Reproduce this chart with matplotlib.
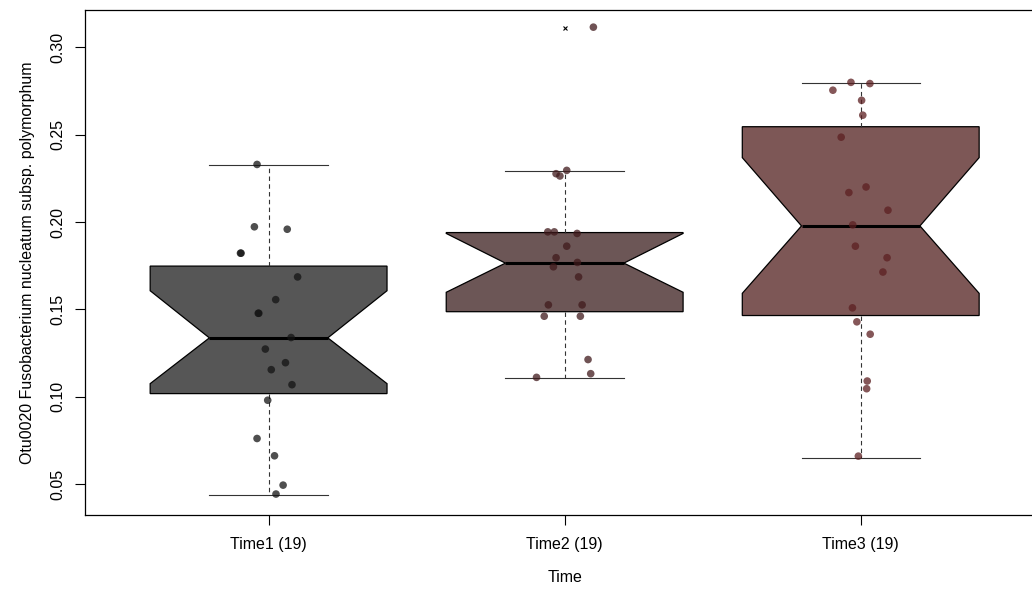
import matplotlib
matplotlib.use("Agg")
import matplotlib.pyplot as plt

plt.rcParams['font.family'] = ['Liberation Sans', 'DejaVu Sans']

groups = ['Time1', 'Time2', 'Time3']
counts = [19, 19, 19]

# box statistics
medians = [0.1337, 0.1765, 0.1978]
q1s = [0.1018, 0.1487, 0.1465]
q3s = [0.1748, 0.1940, 0.2546]
whis_lo = [0.0437, 0.1107, 0.0652]
whis_hi = [0.2325, 0.2292, 0.2797]
notch_lo = [0.1075, 0.1598, 0.1592]
notch_hi = [0.1607, 0.1935, 0.2369]
outliers = [[], [0.311], []]

# jittered points: value and horizontal offset
time1_vals = [0.2330, 0.1973, 0.1959, 0.1822, 0.1822, 0.1686, 0.1556, 0.1478, 0.1478,
              0.1339, 0.1273, 0.1195, 0.1155, 0.1069, 0.0980, 0.0761, 0.0662, 0.0494, 0.0443]
time1_jit = [-0.039, -0.048, 0.063, -0.095, -0.093, 0.098, 0.024, -0.035, -0.033,
             0.076, -0.011, 0.057, 0.009, 0.079, -0.003, -0.039, 0.020, 0.049, 0.025]
time2_vals = [0.3116, 0.2296, 0.2277, 0.2264, 0.1944, 0.1944, 0.1935, 0.1862, 0.1796,
              0.1769, 0.1744, 0.1686, 0.1526, 0.1526, 0.1461, 0.1461, 0.1213, 0.1132, 0.1111]
time2_jit = [0.097, 0.007, -0.029, -0.016, -0.057, -0.035, 0.042, 0.007, -0.029,
             0.043, -0.038, 0.047, -0.055, 0.059, -0.069, 0.053, 0.079, 0.088, -0.095]
time3_vals = [0.2800, 0.2793, 0.2755, 0.2697, 0.2612, 0.2486, 0.2201, 0.2169, 0.2068,
              0.1984, 0.1862, 0.1796, 0.1714, 0.1509, 0.1429, 0.1358, 0.1090, 0.1046, 0.0660]
time3_jit = [-0.033, 0.031, -0.094, 0.003, 0.007, -0.066, 0.018, -0.040, 0.092,
             -0.027, -0.018, 0.089, 0.075, -0.028, -0.013, 0.032, 0.022, 0.020, -0.008]

box_colors = ['#565656', '#6c5656', '#7d5756']
point_colors = [(0.08, 0.08, 0.08, 0.75), (0.25, 0.10, 0.11, 0.75), (0.36, 0.12, 0.13, 0.75)]

fig = plt.figure(figsize=(10.32, 5.91), dpi=100)
ax = fig.add_axes([0.0824, 0.1286, 0.9295, 0.8553])

positions = [1, 2, 3]
stats = []
for i in range(3):
    stats.append(dict(med=medians[i], q1=q1s[i], q3=q3s[i], whislo=whis_lo[i],
                      whishi=whis_hi[i], cilo=notch_lo[i], cihi=notch_hi[i],
                      fliers=outliers[i]))

bp = ax.bxp(stats, positions=positions, widths=0.8, shownotches=True, patch_artist=True,
            boxprops=dict(edgecolor='black', linewidth=0.9),
            whiskerprops=dict(color='#333333', linewidth=0.8, linestyle=(0, (4, 3))),
            capprops=dict(color='#333333', linewidth=0.8),
            medianprops=dict(color='black', linewidth=2.2),
            flierprops=dict(marker='x', markersize=3, markeredgecolor='black',
                            markeredgewidth=0.8))
for patch, c in zip(bp['boxes'], box_colors):
    patch.set_facecolor(c)

vals = [time1_vals, time2_vals, time3_vals]
jits = [time1_jit, time2_jit, time3_jit]
for i in range(3):
    xs = [positions[i] + j for j in jits[i]]
    ax.scatter(xs, vals[i], s=30, color=point_colors[i], edgecolors='none', zorder=5)

ax.set_xlim(0.38, 3.62)
ax.set_ylim(0.0323, 0.3217)
ax.set_xticks(positions)
ax.set_xticklabels(['%s (%d)' % (g, n) for g, n in zip(groups, counts)])
ax.set_yticks([0.05, 0.10, 0.15, 0.20, 0.25, 0.30])
ax.set_yticklabels(['0.05', '0.10', '0.15', '0.20', '0.25', '0.30'], rotation=90, va='center')
ax.tick_params(axis='x', length=7, width=0.8, pad=9, labelsize=11.5)
ax.tick_params(axis='y', length=7, width=0.8, pad=7, labelsize=11.5)
for s in ax.spines.values():
    s.set_linewidth(0.9)

ax.set_xlabel('Time', fontsize=11.5, labelpad=13)
ax.set_ylabel('Otu0020 Fusobacterium nucleatum subsp. polymorphum', fontsize=11.5, labelpad=11)

fig.savefig('out.png', dpi=100)
